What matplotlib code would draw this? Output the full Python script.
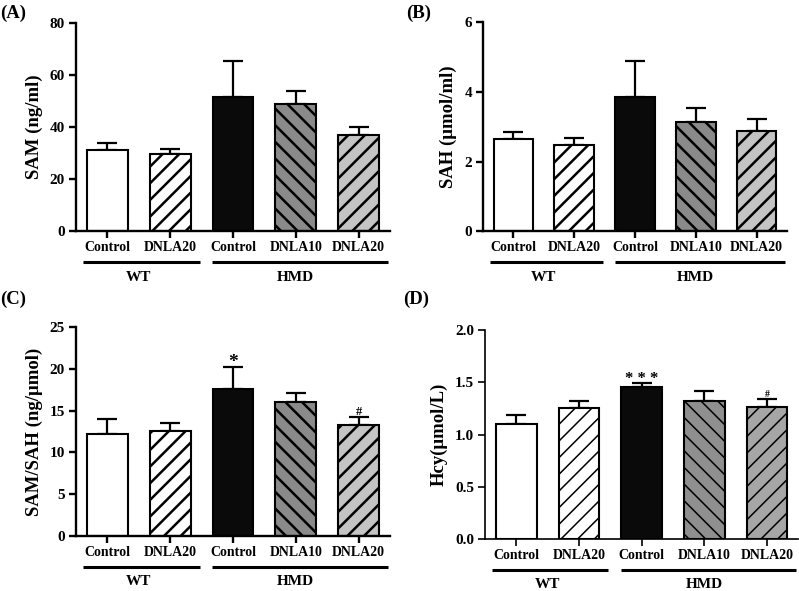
import matplotlib
matplotlib.use("Agg")
import matplotlib.pyplot as plt
from matplotlib import transforms

plt.rcParams['font.family'] = ['Liberation Serif', 'DejaVu Serif']
plt.rcParams['font.weight'] = 'bold'
plt.rcParams['hatch.color'] = 'black'

categories = ['Control', 'DNLA20', 'Control', 'DNLA10', 'DNLA20']
groups = ['WT', 'HMD']

sam_mean = [31.2, 29.8, 51.5, 49.0, 37.1]
sam_err = [2.6, 1.8, 14.0, 5.0, 3.1]
sah_mean = [2.64, 2.47, 3.85, 3.15, 2.89]
sah_err = [0.20, 0.21, 1.03, 0.39, 0.32]
ratio_mean = [12.2, 12.5, 17.6, 16.0, 13.3]
ratio_err = [1.8, 1.0, 2.6, 1.1, 0.95]
hcy_mean = [1.10, 1.255, 1.455, 1.32, 1.265]
hcy_err = [0.09, 0.065, 0.04, 0.095, 0.075]

fig = plt.figure(figsize=(7.99, 5.91), dpi=100)


def panel(rect, means, errs, ylim, yticks, ytl, ylabel, letter, letter_xy,
          colors, hatches, spine_lw=1.7, hatch_lw=1.8, marks=None):
    ax = fig.add_axes(rect)
    x = list(range(len(means)))
    with plt.rc_context({'hatch.linewidth': hatch_lw}):
        bars = ax.bar(x, means, width=0.65, color=colors, edgecolor='black',
                      linewidth=1.5, zorder=2)
        for b, h in zip(bars, hatches):
            if h:
                b.set_hatch(h)
            if hasattr(b, 'set_hatch_linewidth'):
                b.set_hatch_linewidth(hatch_lw)
    ax.errorbar(x, means, yerr=[[0] * len(errs), errs], fmt='none',
                ecolor='black', elinewidth=1.6, capsize=7.5, capthick=1.6,
                zorder=1)
    ax.set_xlim(-0.5, 4.5)
    ax.set_ylim(*ylim)
    ax.set_yticks(yticks)
    ax.set_yticklabels(ytl, fontsize=11, fontweight='bold')
    ax.set_xticks(x)
    ax.set_xticklabels(categories, fontsize=10, fontweight='bold')
    for s in ['top', 'right']:
        ax.spines[s].set_visible(False)
    for s in ['left', 'bottom']:
        ax.spines[s].set_linewidth(spine_lw)
    ax.tick_params(axis='both', width=spine_lw, length=5, pad=2)
    ax.tick_params(axis='y', pad=3)
    ax.set_ylabel(ylabel, fontsize=13.5, fontweight='bold', labelpad=5)
    # group lines
    trans_line = transforms.blended_transform_factory(ax.transData, ax.transAxes) + \
        transforms.ScaledTranslation(0, -31 / 100, fig.dpi_scale_trans)
    trans_txt = transforms.blended_transform_factory(ax.transData, ax.transAxes) + \
        transforms.ScaledTranslation(0, -46 / 100, fig.dpi_scale_trans)
    spans = [(-0.39, 1.47), (1.67, 4.47)]
    centers = [0.5, 3.0]
    for (a, b), c, g in zip(spans, centers, groups):
        ax.plot([a, b], [0, 0], color='black', lw=2.2, transform=trans_line,
                clip_on=False, solid_capstyle='butt')
        ax.text(c, 0, g, transform=trans_txt, ha='center', va='center',
                fontsize=11, fontweight='bold')
    fig.text(letter_xy[0], letter_xy[1], letter, fontsize=13.5, fontweight='bold',
             ha='left', va='center')
    if marks:
        for idx, txt, fs, off in marks:
            ax.annotate(txt, (idx, means[idx] + errs[idx]), xytext=(0, off),
                        textcoords='offset points', ha='center', va='bottom',
                        fontsize=fs, fontweight='bold')
    return ax


colsABC = ['white', 'white', '#0a0a0a', '#8a8a8a', '#c4c4c4']
colsD = ['white', 'white', '#0a0a0a', '#8f8f8f', '#a6a6a6']
hatches = [None, '//', None, '\\\\', '//']

panel([0.0951, 0.609, 0.393, 0.352], sam_mean, sam_err, (0, 80), [0, 20, 40, 60, 80],
      ['0', '20', '40', '60', '80'], 'SAM (ng/ml)', '(A)', (0.0, 0.978),
      colsABC, hatches)
panel([0.6045, 0.609, 0.3805, 0.353], sah_mean, sah_err, (0, 6), [0, 2, 4, 6],
      ['0', '2', '4', '6'], 'SAH (\u03bcmol/ml)', '(B)', (0.508, 0.978),
      colsABC, hatches)
panel([0.0951, 0.0931, 0.393, 0.3536], ratio_mean, ratio_err, (0, 25),
      [0, 5, 10, 15, 20, 25], ['0', '5', '10', '15', '20', '25'],
      'SAM/SAH (ng/\u03bcmol)', '(C)', (0.0, 0.493), colsABC, hatches,
      marks=[(2, '*', 14, -3), (4, '#', 9, -1)])
panel([0.607, 0.088, 0.392, 0.3536], hcy_mean, hcy_err, (0, 2.0),
      [0, 0.5, 1.0, 1.5, 2.0], ['0.0', '0.5', '1.0', '1.5', '2.0'],
      'Hcy(\u03bcmol/L)', '(D)', (0.505, 0.493), colsD, hatches,
      spine_lw=1.2, hatch_lw=1.1,
      marks=[(2, '* * *', 12, -3), (4, '#', 7, 0)])

fig.savefig('out.png', dpi=100)
